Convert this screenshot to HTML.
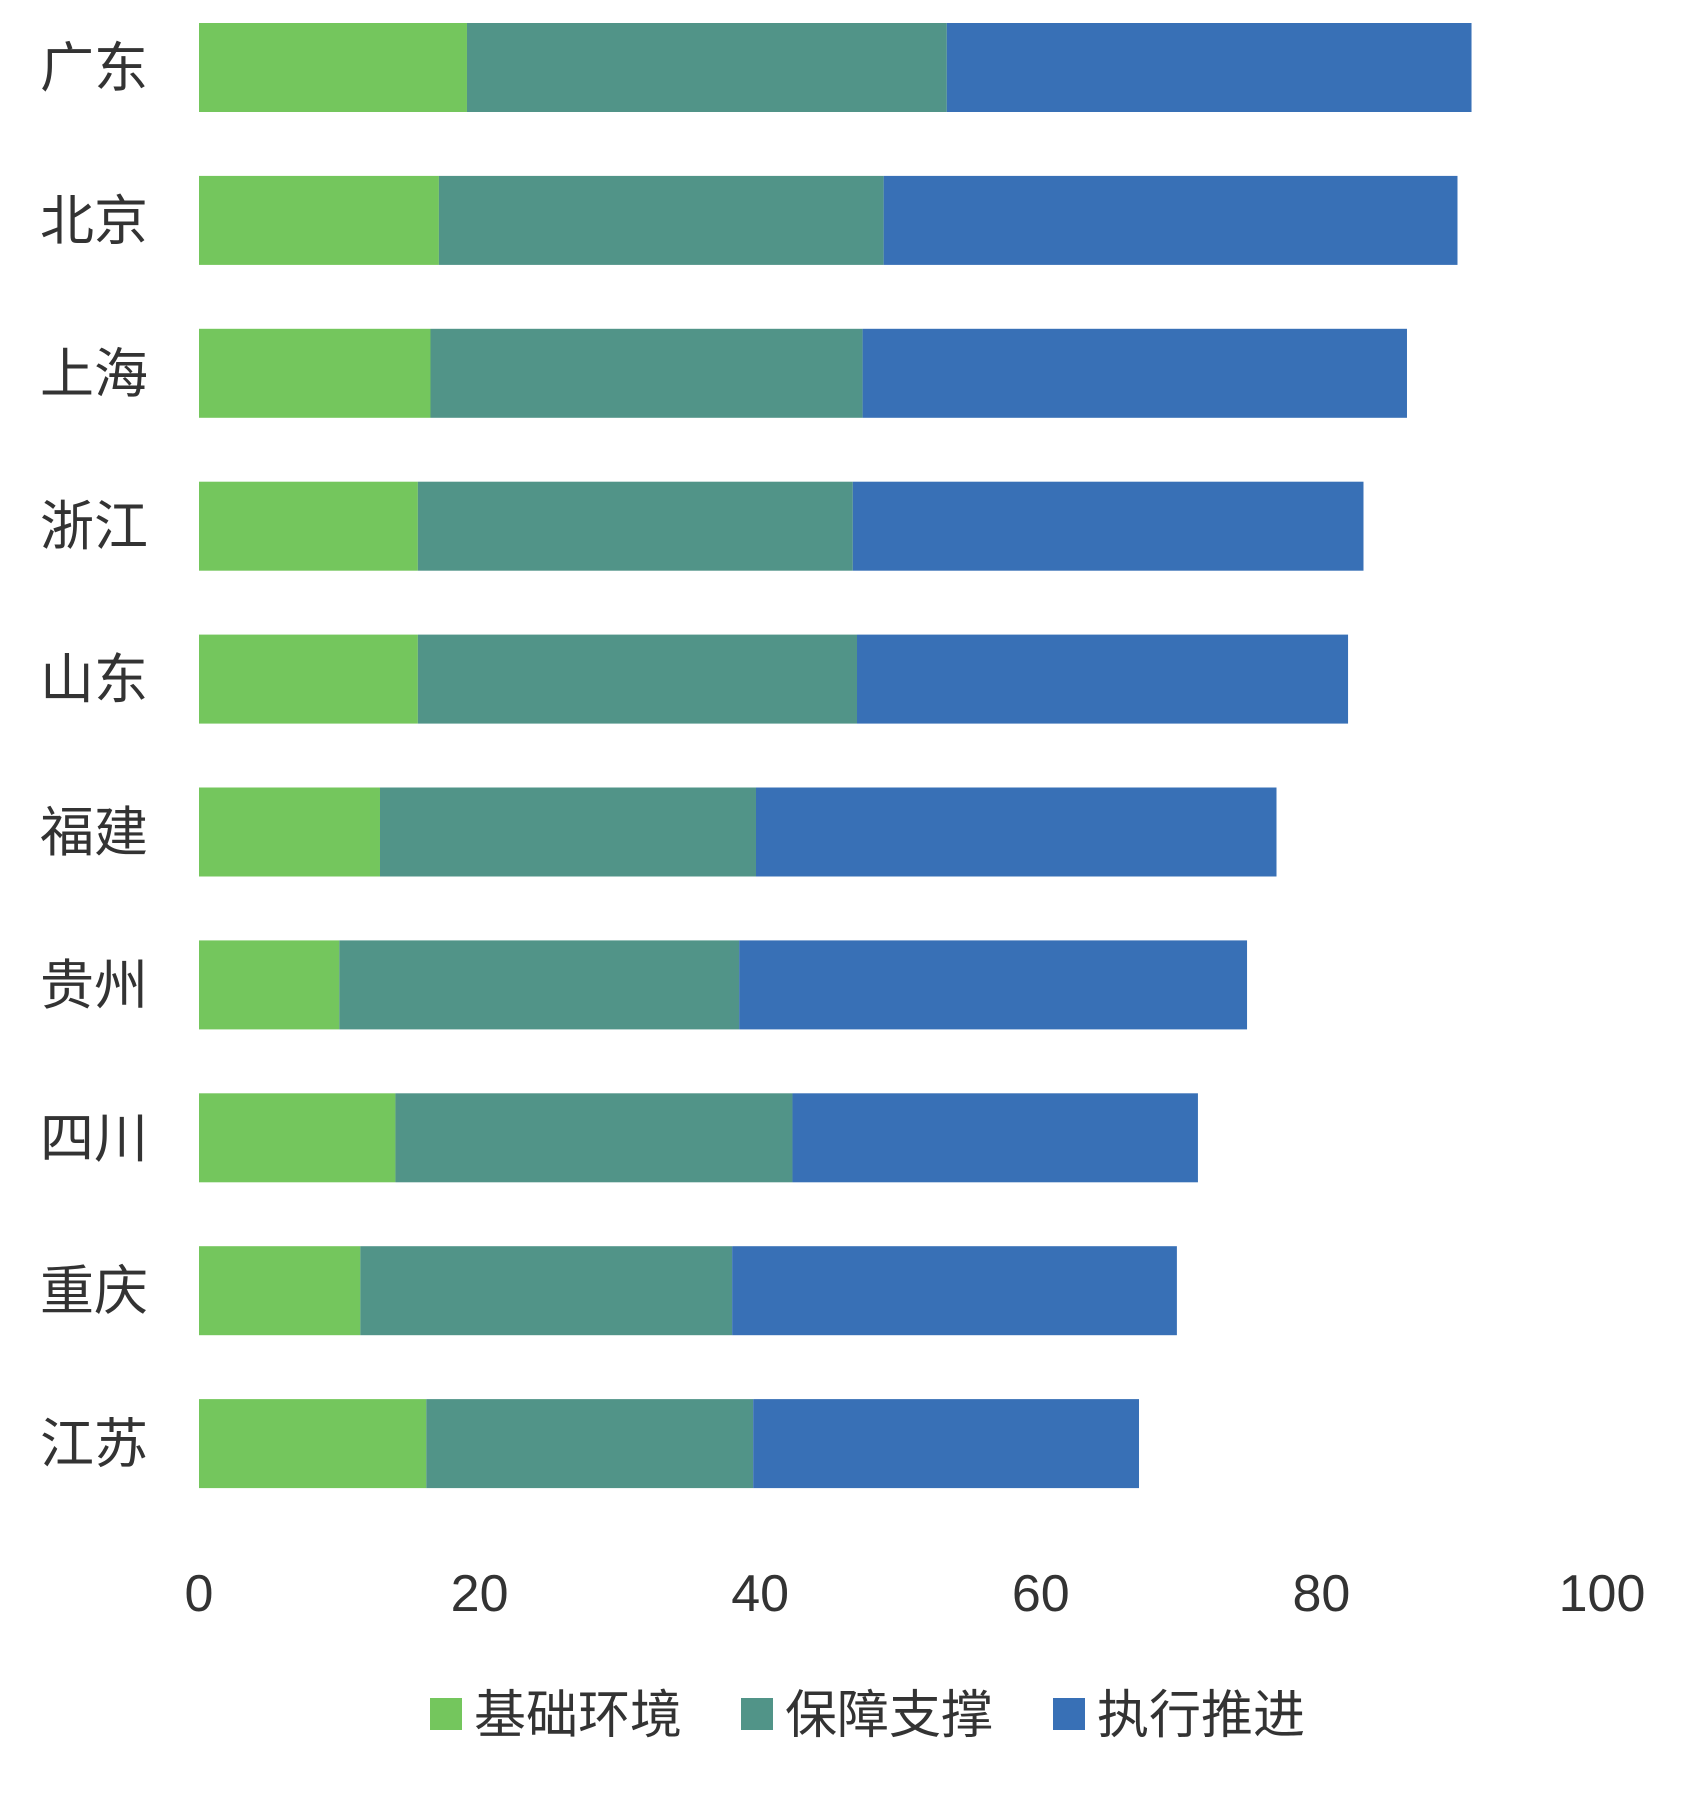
<!DOCTYPE html>
<html><head><meta charset="utf-8"><style>
html,body{margin:0;padding:0;background:#fff;}
svg text{font-family:"Liberation Sans","Noto Sans CJK SC",sans-serif;fill:#333;}
</style></head><body>
<svg id="chart" width="1700" height="1798" viewBox="0 0 1700 1798" xmlns="http://www.w3.org/2000/svg">
<g id="bars"></g>
<g id="ylabels"></g>
<g id="xticks"></g>
<g id="legend"></g>
</svg>
<script>
const categories = ["广东","北京","上海","浙江","山东","福建","贵州","四川","重庆","江苏"];
const seriesNames = ["基础环境","保障支撑","执行推进"];
const basic = [19.1,17.1,16.5,15.6,15.6,12.9,10.0,14.0,11.5,16.2];
const support = [34.2,31.7,30.8,31.0,31.3,26.8,28.5,28.3,26.5,23.3];
const execute = [37.4,40.9,38.8,36.4,35.0,37.1,36.2,28.9,31.7,27.5];
const xTicks = [0,20,40,60,80,100];
const colors = ["#74C65D","#519488","#3870B6"];
const NS = "http://www.w3.org/2000/svg";
const x0 = 199, x1 = 1602, xMax = 100;
function xs(v){ return x0 + (x1 - x0) * v / xMax; }
const top0 = 67.5, pitch = 152.9, barH = 89;
function yc(i){ return top0 + i * pitch; }
function mk(tag, attrs, parent){ const e = document.createElementNS(NS, tag); for (const k in attrs) e.setAttribute(k, attrs[k]); parent.appendChild(e); return e; }
const series = [basic, support, execute];
const bars = document.getElementById('bars');
const yl = document.getElementById('ylabels');
categories.forEach((c, i) => {
  let acc = 0;
  series.forEach((s, j) => {
    const r = mk('rect', {x: xs(acc), y: yc(i) - barH / 2, width: xs(acc + s[i]) - xs(acc), height: barH, fill: colors[j]}, bars);
    
    
    acc += s[i];
  });
  const t = mk('text', {x: 40, y: yc(i) + 19, 'font-size': 54}, yl);
  t.textContent = c;
  
  
});
const xt = document.getElementById('xticks');
xTicks.forEach(v => {
  const t = mk('text', {x: xs(v), y: 1611, 'font-size': 52, 'text-anchor': 'middle'}, xt);
  t.textContent = v;
  
  
});
const lg = document.getElementById('legend');
const lx = [430, 741, 1053];
seriesNames.forEach((n, j) => {
  const r = mk('rect', {x: lx[j], y: 1698, width: 32, height: 32, fill: colors[j]}, lg);
  
  
  const t = mk('text', {x: lx[j] + 44, y: 1733, 'font-size': 52}, lg);
  t.textContent = n;
  
  
});
</script>
</body></html>
